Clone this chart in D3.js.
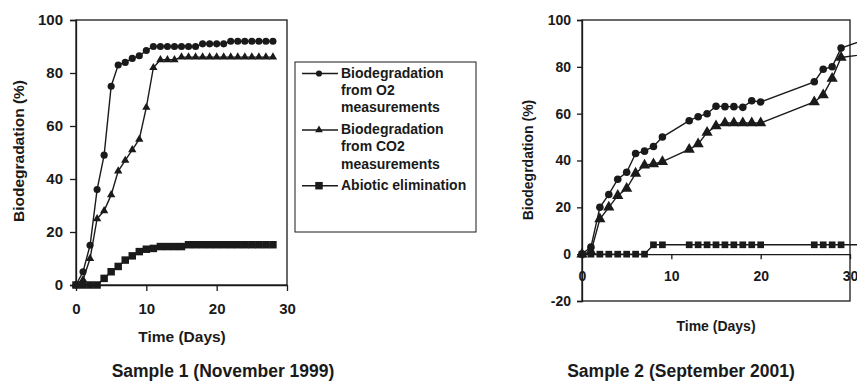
<!DOCTYPE html>
<html>
<head>
<meta charset="utf-8">
<script src="https://cdn.jsdelivr.net/npm/d3@7.9.0/dist/d3.min.js"></script>
<style>
  html, body { margin: 0; padding: 0; background: #fff; }
  svg { display: block; font-family: "Liberation Sans", Arial, sans-serif; font-weight: bold; }
  .axis text { fill: #1a1a1a; font-weight: bold; }
  .axis path, .axis line { stroke: #1a1a1a; stroke-width: 1.3; }
</style>
</head>
<body>
<svg id="chart" width="857" height="382"></svg>
<script>
// ---------- DATA ----------
// Sample 1 (November 1999)
const s1Days = [0, 1, 2, 3, 4, 5, 6, 7, 8, 9, 10, 11, 12, 13, 14, 15, 16, 17, 18, 19, 20, 21, 22, 23, 24, 25, 26, 27, 28];
const s1O2 = [0, 5, 15, 36, 49, 75, 83, 84, 85.5, 86.5, 88.5, 90, 90, 90, 90, 90, 90, 90, 91, 91, 91, 91, 92, 92, 92, 92, 92, 92, 92];
const s1CO2 = [0, 2, 10, 25, 28, 34, 43, 47, 51, 55, 67, 82, 85, 85, 85, 86, 86, 86, 86, 86, 86, 86, 86, 86, 86, 86, 86, 86, 86];
const s1Abiotic = [0, 0, 0, 0, 2.5, 5, 7, 9.4, 11, 12.6, 13.5, 13.8, 14.5, 14.5, 14.5, 14.5, 15.2, 15.2, 15.2, 15.2, 15.2, 15.2, 15.2, 15.2, 15.2, 15.2, 15.2, 15.2, 15.2];

// Sample 2 (September 2001)
const s2Days = [0, 1, 2, 3, 4, 5, 6, 7, 8, 9, 12, 13, 14, 15, 16, 17, 18, 19, 20, 26, 27, 28, 29, 35];
const s2O2 = [0, 3, 20, 25.5, 32, 35, 43, 44, 46, 50, 57, 58.7, 60, 63.2, 63, 63, 62.7, 65.5, 65, 73.6, 79, 80, 88, 96];
const s2CO2 = [0, 1, 15, 20, 25, 28, 34.5, 38, 38.5, 39.5, 44.7, 47, 52, 54.7, 56, 56, 56, 56, 56, 65, 68, 75, 84, 87];
const s2Abiotic = [0, 0, 0, 0, 0, 0, 0, 0, 4, 4, 4, 4, 4, 4, 4, 4, 4, 4, 4, 4, 4, 4, 4, 4];

const xTicks = [0, 10, 20, 30];
const yTicks1 = [0, 20, 40, 60, 80, 100];
const yTicks2 = [-20, 0, 20, 40, 60, 80, 100];

const legendLabels = [
  ['Biodegradation', 'from O2', 'measurements'],
  ['Biodegradation', 'from CO2', 'measurements'],
  ['Abiotic elimination'],
];

// ---------- HELPERS ----------
const svg = d3.select('#chart');
const ink = '#1a1a1a';
const plain = (d) => String(d); // keep the ASCII hyphen of the original

function marker(type, size) {
  const t = { circle: d3.symbolCircle, triangle: d3.symbolTriangle, square: d3.symbolSquare }[type];
  return d3.symbol().type(t).size(size)();
}

function drawPanel(p) {
  const g = svg.append('g');
  const x = d3.scaleLinear().domain([0, 30]).range([p.left, p.right]);
  const y = d3.scaleLinear().domain(p.yDomain).range([p.bottom, p.top]);

  // frame
  g.append('rect')
    .attr('x', p.left).attr('y', p.top)
    .attr('width', p.right - p.left).attr('height', p.bottom - p.top)
    .attr('fill', 'none').attr('stroke', ink).attr('stroke-width', 1.3);

  // axes
  g.append('g')
    .attr('class', 'axis')
    .attr('transform', `translate(${p.left},0)`)
    .call(d3.axisLeft(y).tickValues(p.yTicks).tickFormat(plain).tickSize(p.tick).tickPadding(p.yPad))
    .call((a) => a.selectAll('text').style('font-size', p.tickFont + 'px'));

  g.append('g')
    .attr('class', 'axis')
    .attr('transform', `translate(0,${y(0)})`)
    .call(d3.axisBottom(x).tickValues(xTicks).tickFormat(plain).tickSize(p.tick).tickPadding(p.xPad).tickSizeOuter(0))
    .call((a) => a.selectAll('text').style('font-size', p.tickFont + 'px'));

  // titles
  g.append('text')
    .attr('transform', `translate(${p.yTitleX},${(p.top + p.zeroTitleBottom) / 2}) rotate(-90)`)
    .attr('text-anchor', 'middle').attr('dominant-baseline', 'middle')
    .style('font-size', p.titleFont + 'px').attr('fill', ink)
    .text(p.yTitle);

  g.append('text')
    .attr('x', p.xTitleX).attr('y', p.xTitleY)
    .attr('text-anchor', 'middle').attr('dominant-baseline', 'middle')
    .style('font-size', p.titleFont + 'px').attr('fill', ink)
    .text('Time (Days)');

  g.append('text')
    .attr('x', p.captionX).attr('y', 372)
    .attr('text-anchor', 'middle').attr('dominant-baseline', 'middle')
    .style('font-size', '17.5px').attr('fill', ink)
    .text(p.caption);

  // series
  const line = d3.line().x((d) => x(d[0])).y((d) => y(d[1]));
  p.series.forEach((s) => {
    const pts = p.days.map((d, i) => [d, s.values[i]]);
    g.append('path')
      .attr('d', line(pts))
      .attr('fill', 'none').attr('stroke', ink).attr('stroke-width', 1.4);
    g.append('g').selectAll('path')
      .data(pts)
      .join('path')
      .attr('transform', (d) => `translate(${x(d[0])},${y(d[1])})`)
      .attr('d', marker(s.type, s.size))
      .attr('fill', ink);
  });
}

// ---------- PANEL 1 ----------
drawPanel({
  left: 76, right: 287, top: 20, bottom: 285,
  yDomain: [0, 100], yTicks: yTicks1,
  tick: 6, yPad: 7, xPad: 12, tickFont: 15, titleFont: 15.5,
  yTitle: 'Biodegradation (%)', yTitleX: 20, zeroTitleBottom: 282,
  xTitleX: 182, xTitleY: 338,
  caption: 'Sample 1 (November 1999)', captionX: 223,
  days: s1Days,
  series: [
    { values: s1O2, type: 'circle', size: 40 },
    { values: s1CO2, type: 'triangle', size: 30 },
    { values: s1Abiotic, type: 'square', size: 56 },
  ],
});

// ---------- PANEL 2 ----------
drawPanel({
  left: 582, right: 850, top: 20, bottom: 301,
  yDomain: [-20, 100], yTicks: yTicks2,
  tick: 5, yPad: 6, xPad: 12, tickFont: 14, titleFont: 14,
  yTitle: 'Biodegrdation (%)', yTitleX: 529, zeroTitleBottom: 300,
  xTitleX: 716, xTitleY: 327,
  caption: 'Sample 2 (September 2001)', captionX: 681,
  days: s2Days,
  series: [
    { values: s2O2, type: 'circle', size: 45 },
    { values: s2CO2, type: 'triangle', size: 55 },
    { values: s2Abiotic, type: 'square', size: 45 },
  ],
});

// ---------- LEGEND ----------
const legend = svg.append('g');
legend.append('rect')
  .attr('x', 295).attr('y', 62).attr('width', 181).attr('height', 170)
  .attr('fill', '#fff').attr('stroke', ink).attr('stroke-width', 1);

const legendTypes = [
  { type: 'circle', size: 30 },
  { type: 'triangle', size: 26 },
  { type: 'square', size: 56 },
];
const entryY = [73.5, 130, 185.7];
legendLabels.forEach((lines, i) => {
  const ly = entryY[i];
  legend.append('line')
    .attr('x1', 302).attr('x2', 338).attr('y1', ly).attr('y2', ly)
    .attr('stroke', ink).attr('stroke-width', 1.4);
  legend.append('path')
    .attr('transform', `translate(319,${ly})`)
    .attr('d', marker(legendTypes[i].type, legendTypes[i].size))
    .attr('fill', ink);
  const t = legend.append('text')
    .attr('x', 341).attr('y', ly)
    .attr('dominant-baseline', 'middle')
    .style('font-size', '14px').attr('fill', ink);
  lines.forEach((s, j) => {
    t.append('tspan').attr('x', 341).attr('dy', j === 0 ? 0 : 17.3).text(s);
  });
});
</script>
</body>
</html>
